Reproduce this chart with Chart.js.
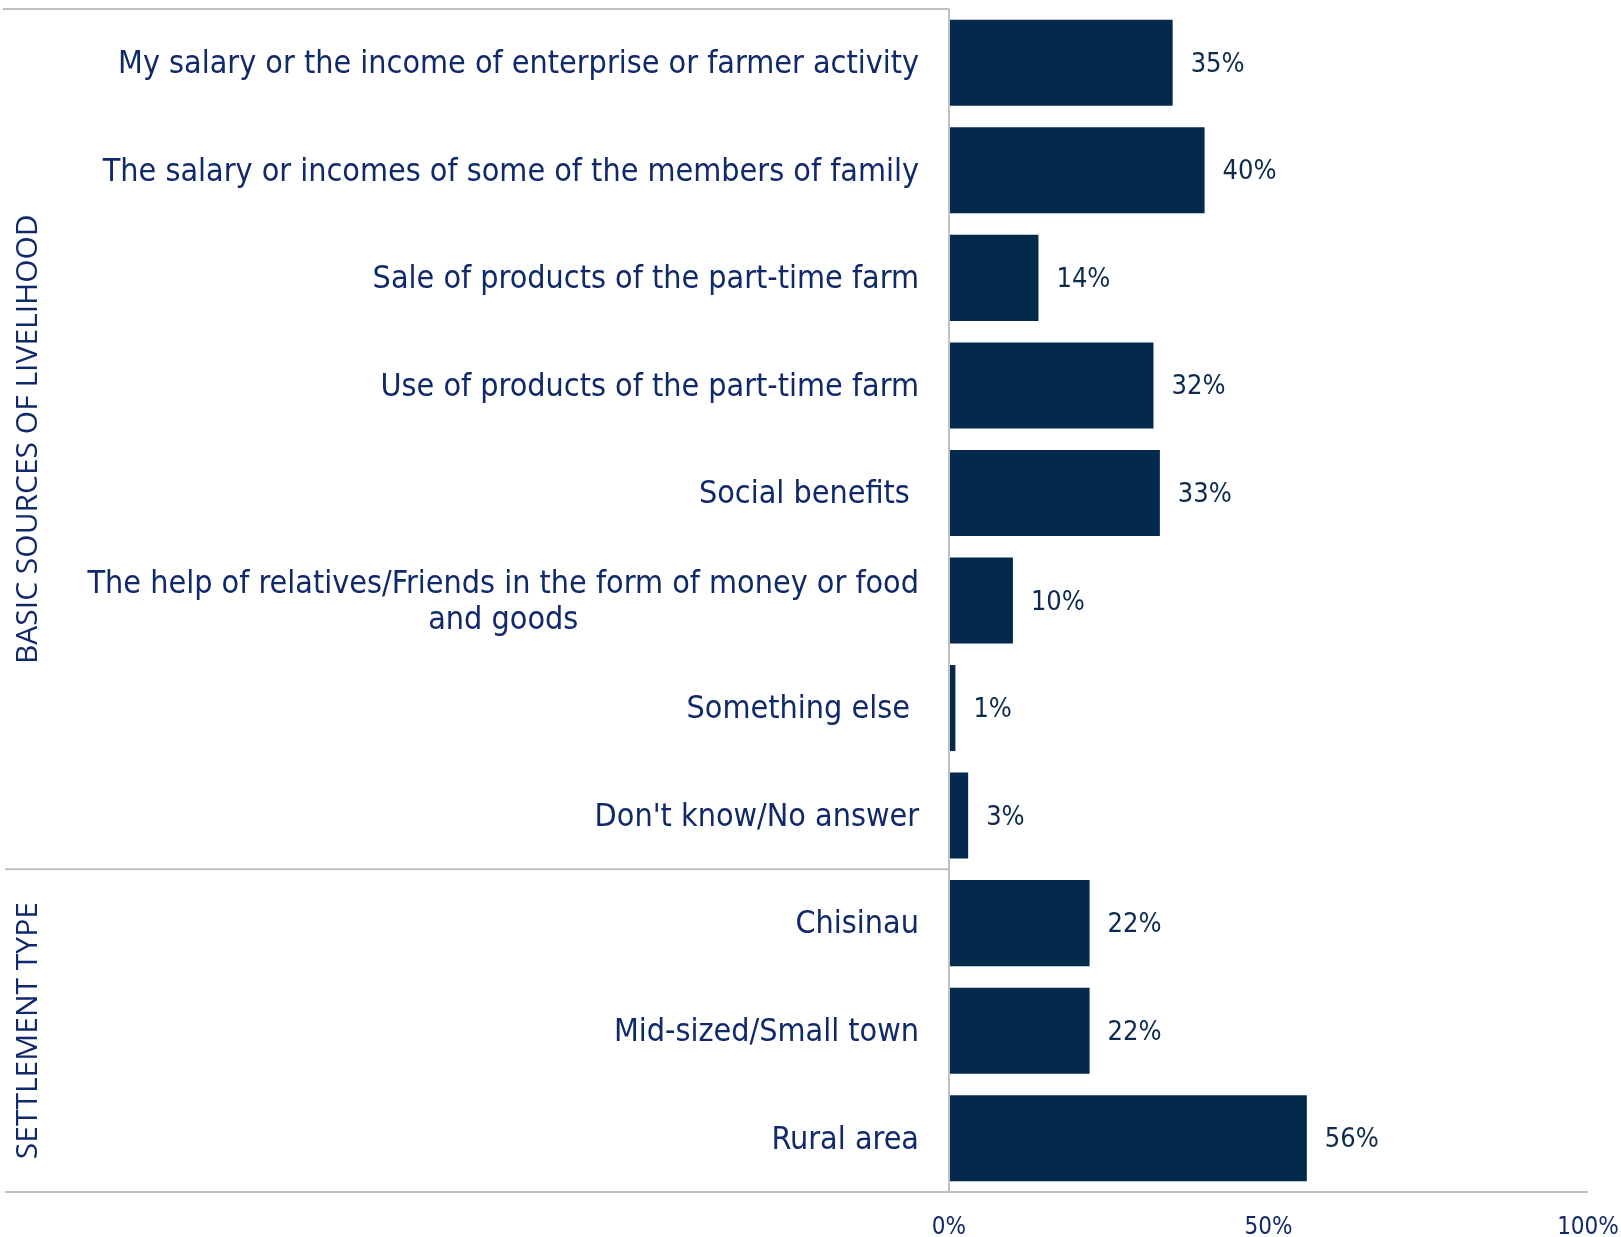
<!DOCTYPE html>
<html>
<head>
<meta charset="utf-8">
<script src="https://cdn.jsdelivr.net/npm/chart.js@4"></script>
<style>
  html, body { margin: 0; padding: 0; background: #fff; }
  #wrap { width: 1621px; height: 1237px; }
</style>
</head>
<body>
<div id="wrap"><canvas id="bar_chart" width="1621" height="1237"></canvas></div>
<script>
// categories (multi-line labels are arrays)
var categories = [
    "My salary or the income of enterprise or farmer activity",
    "The salary or incomes of some of the members of family",
    "Sale of products of the part-time farm",
    "Use of products of the part-time farm",
    "Social benefits ",
    ["The help of relatives/Friends in the form of money or food", "and goods"],
    "Something else ",
    "Don't know/No answer",
    "Chisinau",
    "Mid-sized/Small town",
    "Rural area"
];
var values = [35, 40, 14, 32, 33, 10, 1, 3, 22, 22, 56];
// group headers: name, first index, last index
var groupNames = ["BASIC SOURCES OF LIVELIHOOD", "SETTLEMENT TYPE"];
var groupStart = [0, 8];
var groupEnd = [7, 10];
var xTicks = [0, 50, 100];

var navy = '#10296a';
var barColor = '#03294c';
var lineColor = '#c0c0c0';
var narrow = '"DejaVu Sans Condensed", "Liberation Sans Narrow", sans-serif';
var labelFont = '32px ' + narrow;
var groupFont = '30px "Open Sans", sans-serif';

var decorations = {
    id: 'decorations',
    afterDraw: function (chart) {
        var c = chart.ctx;
        var area = chart.chartArea;
        var y = chart.scales.y;
        var x0 = chart.scales.x.getPixelForValue(0);
        c.save();

        // lines
        c.strokeStyle = lineColor;
        c.lineWidth = 2;
        c.beginPath();
        c.moveTo(3, area.top); c.lineTo(x0, area.top);
        c.moveTo(x0, area.top); c.lineTo(x0, area.bottom);
        c.moveTo(5, area.bottom); c.lineTo(area.right, area.bottom);
        for (var g = 1; g < groupStart.length; g++) {
            var yy = y.getPixelForValue(groupStart[g] - 0.5);
            c.moveTo(5, yy); c.lineTo(x0, yy);
        }
        c.stroke();

        // category labels
        c.fillStyle = navy;
        c.font = labelFont;
        c.textBaseline = 'middle';
        var rightX = x0 - 30;
        categories.forEach(function (lab, i) {
            var py = y.getPixelForValue(i) + 2;
            var lines = Array.isArray(lab) ? lab : [lab];
            var lh = 36;
            var w = 0;
            lines.forEach(function (l) { w = Math.max(w, c.measureText(l).width); });
            c.textAlign = lines.length > 1 ? 'center' : 'right';
            var cx = lines.length > 1 ? rightX - w / 2 : rightX;
            lines.forEach(function (l, k) {
                c.fillText(l, cx, py + (k - (lines.length - 1) / 2) * lh);
            });
        });

        // group labels
        c.font = groupFont;
        c.textAlign = 'center';
        groupNames.forEach(function (name, g) {
            var top = y.getPixelForValue(groupStart[g] - 0.5);
            var bottom = y.getPixelForValue(groupEnd[g] + 0.5);
            c.save();
            c.translate(28, (top + bottom) / 2);
            c.rotate(-Math.PI / 2);
            c.fillText(name, 0, 0);
            c.restore();
        });

        // value labels
        c.font = '27px ' + narrow;
        c.textAlign = 'left';
        c.fillStyle = '#0d2b4f';
        chart.getDatasetMeta(0).data.forEach(function (bar, i) {
            c.fillText(values[i] + '%', bar.x + 18, bar.y + 2);
        });
        c.restore();
    }
};

var ctx = document.getElementById('bar_chart').getContext('2d');
var bar_chart = new Chart(ctx, {
    type: 'bar',
    data: {
        labels: categories,
        datasets: [{
            data: values,
            backgroundColor: barColor,
            borderWidth: 0,
            barPercentage: 0.8,
            categoryPercentage: 1.0
        }]
    },
    options: {
        indexAxis: 'y',
        responsive: false,
        animation: false,
        layout: { padding: { left: 949, right: 33, top: 9, bottom: 0 } },
        plugins: { legend: { display: false }, tooltip: { enabled: false } },
        scales: {
            y: { display: false },
            x: {
                min: 0,
                max: 100,
                afterBuildTicks: function (scale) {
                    scale.ticks = xTicks.map(function (v) { return { value: v }; });
                },
                afterFit: function (scale) {
                    scale.height = 45;
                    scale.paddingLeft = 0;
                    scale.paddingRight = 0;
                },
                grid: { display: false, drawTicks: false },
                border: { display: false },
                ticks: {
                    padding: 21,
                    color: navy,
                    font: { family: narrow, size: 24 },
                    callback: function (v) { return v + '%'; }
                }
            }
        }
    },
    plugins: [decorations]
});
</script>
</body>
</html>
